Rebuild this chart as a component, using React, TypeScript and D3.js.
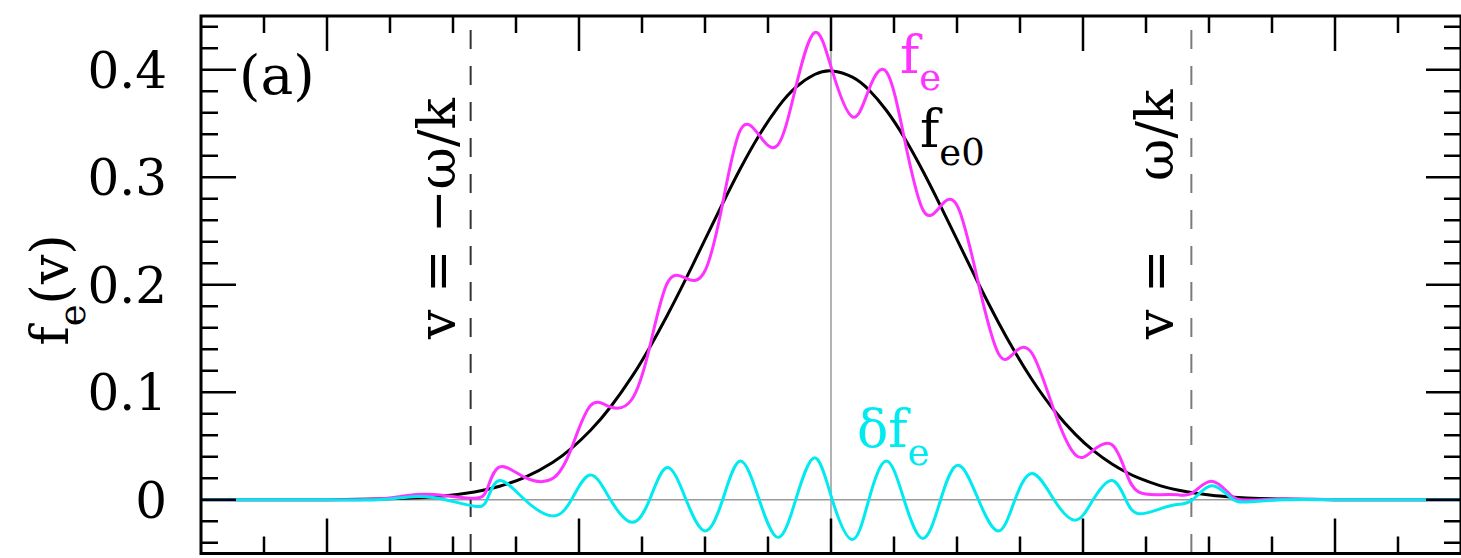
import React from 'react';
import * as d3 from 'd3';

// Velocity grid (in thermal units) at which the curves are sampled
const vGrid = [
  -5, -4.5, -4, -3.6,
  -3.29, -3.06, -2.83, -2.73, -2.63,
  -2.43, -2.21, -2.06, -1.91, -1.75,
  -1.58, -1.44, -1.3, -1.15, -1.0,
  -0.86, -0.72, -0.57, -0.42, -0.28,
  -0.13, 0.01, 0.17, 0.3, 0.44,
  0.58, 0.73, 0.87, 1.01, 1.17,
  1.33, 1.46, 1.6, 1.77, 1.94,
  2.08, 2.23, 2.34, 2.44, 2.61,
  2.75, 2.87, 3.02, 3.17, 3.3,
  3.6, 4, 4.5, 5,
];

// Equilibrium (Maxwellian) distribution f_e0
const fe0 = [
  0, 0, 0.0001, 0.0006,
  0.0018, 0.0037, 0.0073, 0.0096, 0.0126,
  0.0208, 0.0347, 0.0478, 0.0644, 0.0863,
  0.1145, 0.1415, 0.1714, 0.2059, 0.242,
  0.2756, 0.3079, 0.3391, 0.3653, 0.3836,
  0.3956, 0.3989, 0.3932, 0.3814, 0.3621,
  0.3372, 0.3056, 0.2732, 0.2396, 0.2012,
  0.1647, 0.1374, 0.1109, 0.0833, 0.0608,
  0.0459, 0.0332, 0.0258, 0.0203, 0.0132,
  0.0091, 0.0065, 0.0042, 0.0026, 0.0017,
  0.0006, 0.0001, 0, 0,
];

// Perturbation delta f_e
const dfe = [
  0, 0, 0, 0,
  0.003, 0, -0.006, 0, 0.018,
  0, -0.015, 0, 0.023, 0,
  -0.021, 0, 0.03, 0, -0.029,
  0, 0.036, 0, -0.035, 0,
  0.039, 0, -0.037, 0, 0.036,
  0, -0.036, 0, 0.032, 0,
  -0.029, 0, 0.0245, 0, -0.019,
  0, 0.018, 0, -0.013, -0.0085,
  -0.0045, 0, 0.013, 0.002, -0.002,
  0, 0, 0, 0,
];

const yMajor = [0, 0.1, 0.2, 0.3, 0.4];
const yLabels = ['0', '0.1', '0.2', '0.3', '0.4'];
const omegaOverK = 2.86;

const W = 1461;
const H = 558;
const L = 201, R = 1461, T = 16, B = 553.5;
const FONT = "'DejaVu Serif', serif";
const MAGENTA = '#ff33ff';
const CYAN = '#00eaf0';

export default function App() {
  const x = d3.scaleLinear().domain([-5, 5]).range([L, R]);
  const y = d3.scaleLinear().domain([-0.05, 0.45]).range([B, T]);

  const fe = fe0.map((f, i) => f + dfe[i]);
  const pts = (arr: number[]) => vGrid.map((v, i) => [v, arr[i]] as [number, number]);
  const line = d3
    .line<[number, number]>()
    .x((d) => x(d[0]))
    .y((d) => y(d[1]))
    .curve(d3.curveNatural);

  const xTicks = x.ticks(20).filter((t) => t > -5 && t < 5);
  const yTicks = y.ticks(25).filter((t) => t > -0.05 && t < 0.45);
  const isMajorX = (t: number) => Math.abs(t / 2 - Math.round(t / 2)) < 1e-6;
  const isMajorY = (t: number) => Math.abs(t * 10 - Math.round(t * 10)) < 1e-6;
  const MAJ = 35, MIN = 17;

  return (
    <svg
      width={W}
      height={H}
      style={{ position: 'absolute', left: 0, top: 0, display: 'block', background: '#fff' }}
      fontFamily={FONT}
    >
      {/* reference lines at v = 0 and f = 0 */}
      <line x1={L} x2={R} y1={y(0)} y2={y(0)} stroke="#9a9a9a" strokeWidth={1.5} />
      <line x1={x(0)} x2={x(0)} y1={T} y2={B} stroke="#9a9a9a" strokeWidth={1.5} />

      {/* phase velocity markers */}
      <line x1={x(-omegaOverK)} x2={x(-omegaOverK)} y1={T} y2={B} stroke="#333" strokeWidth={2}
        strokeDasharray="19 17" strokeDashoffset={22} />
      <line x1={x(omegaOverK)} x2={x(omegaOverK)} y1={T} y2={B} stroke="#7a7a7a" strokeWidth={2}
        strokeDasharray="19 17" strokeDashoffset={22} />

      {/* curves */}
      <path d={line(pts(fe0)) || ''} fill="none" stroke="#000" strokeWidth={3} />
      <path d={line(pts(fe)) || ''} fill="none" stroke={MAGENTA} strokeWidth={3} />
      <path d={line(pts(dfe)) || ''} fill="none" stroke={CYAN} strokeWidth={3} />

      {/* ticks */}
      {xTicks.map((t) => {
        const len = isMajorX(t) ? MAJ : MIN;
        return (
          <g key={'x' + t} stroke="#000" strokeWidth={2.5}>
            <line x1={x(t)} x2={x(t)} y1={B} y2={B - len} />
            <line x1={x(t)} x2={x(t)} y1={T} y2={T + len} />
          </g>
        );
      })}
      {yTicks.map((t) => {
        const len = isMajorY(t) ? MAJ : MIN;
        return (
          <g key={'y' + t} stroke="#000" strokeWidth={2.5}>
            <line x1={L} x2={L + len} y1={y(t)} y2={y(t)} />
            <line x1={R} x2={R - len} y1={y(t)} y2={y(t)} />
          </g>
        );
      })}

      {/* frame */}
      <rect x={L} y={T} width={R - L} height={B - T} fill="none" stroke="#000" strokeWidth={3} />

      {/* tick labels */}
      {yMajor.map((t, i) => (
        <text key={'yl' + t} x={167} y={y(t) + 18} textAnchor="end" fontSize={50} fill="#000">
          {yLabels[i]}
        </text>
      ))}

      {/* axis title */}
      <text transform="translate(68,290) rotate(-90)" textAnchor="middle" fontSize={52} fill="#000">
        f<tspan fontSize={37} dy={17}>e</tspan><tspan dy={-17}>(v)</tspan>
      </text>

      {/* panel tag */}
      <text x={239} y={94} fontSize={55} fill="#000">(a)</text>

      {/* phase velocity labels */}
      <text transform="translate(455,339) rotate(-90)" fontSize={52} fill="#000">
        v = −ω/k
      </text>
      <text transform="translate(1173,339) rotate(-90)" fontSize={52} fill="#000">
        v = {'\u2003'}ω/k
      </text>

      {/* curve labels */}
      <text x={900} y={73} fontSize={52} fill={MAGENTA}>
        f<tspan fontSize={37} dy={17}>e</tspan>
      </text>
      <text x={920} y={147} fontSize={52} fill="#000">
        f<tspan fontSize={37} dy={18}>e0</tspan>
      </text>
      <text x={857} y={447} fontSize={52} fill={CYAN}>
        δf<tspan fontSize={37} dy={18}>e</tspan>
      </text>
    </svg>
  );
}
